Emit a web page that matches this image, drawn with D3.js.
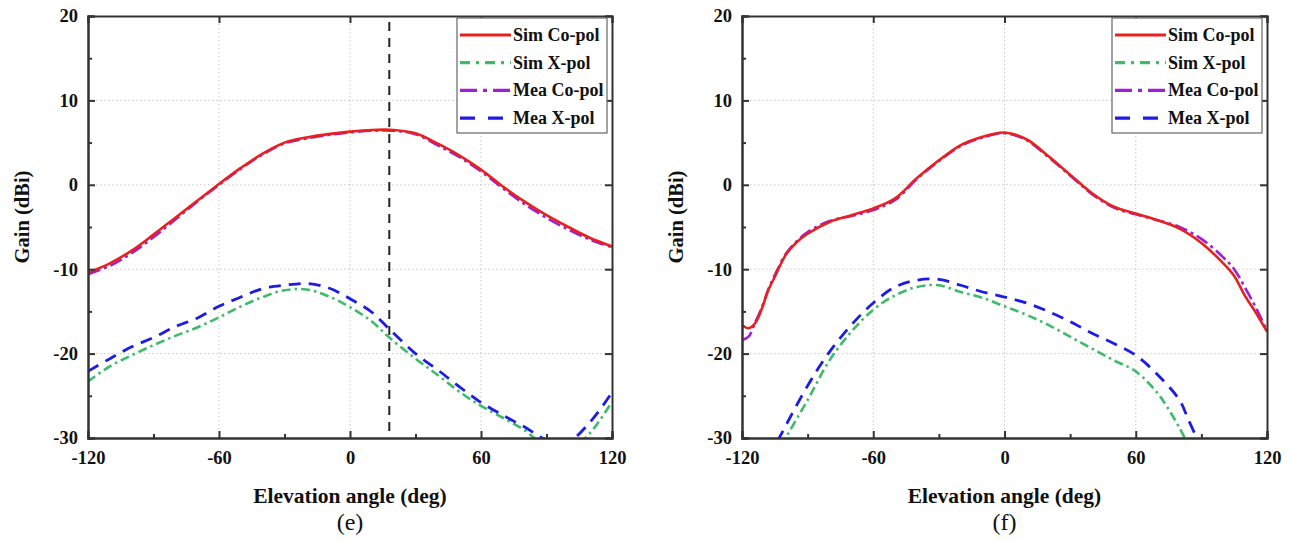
<!DOCTYPE html>
<html><head><meta charset="utf-8">
<script src="https://cdn.jsdelivr.net/npm/d3@7"></script>
<style>
html,body{margin:0;padding:0;background:#fff;}
svg{display:block;}
text{font-family:"Liberation Serif","Times New Roman",serif;}
</style></head>
<body>
<svg id="chart" width="1291" height="541"></svg>
<script>
// ---- data ----
const angleTicks = [-120, -60, 0, 60, 120];
const gainTicks = [-30, -20, -10, 0, 10, 20];
const seriesNames = ["Sim Co-pol", "Sim X-pol", "Mea Co-pol", "Mea X-pol"];
const panelLabels = ["(e)", "(f)"];
const markerAngleE = 18;

// panel (e)
const eCoAng = [-120,-110,-100,-90,-80,-70,-60,-50,-40,-30,-20,-10,0,10,20,30,40,50,60,70,80,90,100,110,120];
const eSimCo = [-10.4,-9.3,-7.8,-5.9,-3.9,-1.9,0.1,2.0,3.7,5.0,5.6,6.0,6.3,6.5,6.5,6.1,4.9,3.5,1.8,-0.2,-2.0,-3.6,-5.0,-6.3,-7.3];
const eMeaCo = [-10.6,-9.6,-8.1,-6.2,-4.1,-2.0,0.0,1.9,3.6,4.9,5.5,5.9,6.2,6.4,6.4,6.0,4.7,3.3,1.6,-0.4,-2.3,-3.9,-5.3,-6.5,-7.4];
const eXAng = [-120,-110,-100,-90,-80,-70,-60,-50,-40,-30,-20,-10,0,10,18,30,40,50,60,70,80,90,100,110,120];
const eSimX = [-23.3,-21.5,-20.2,-19.0,-17.9,-16.9,-15.7,-14.4,-13.3,-12.5,-12.4,-13.2,-14.5,-16.2,-18.1,-20.6,-22.5,-24.5,-26.2,-27.6,-29.1,-31.0,-31.6,-29.4,-25.7];
const eMeaX = [-22.1,-20.6,-19.2,-18.1,-16.8,-15.8,-14.4,-13.3,-12.3,-11.9,-11.7,-12.2,-13.5,-15.1,-17.1,-20.0,-21.9,-23.9,-25.8,-27.3,-28.7,-30.2,-30.4,-28.1,-24.6];

// panel (f)
const fCoAng = [-120,-117,-114,-112,-110,-108,-105,-100,-95,-90,-80,-70,-60,-50,-40,-30,-20,-10,0,10,20,30,40,50,60,70,80,90,100,105,110,115,120];
const fSimCo = [-16.6,-17.0,-16.4,-15.4,-14.0,-12.5,-10.9,-8.3,-6.8,-5.8,-4.4,-3.6,-2.8,-1.6,0.8,2.9,4.7,5.7,6.2,5.4,3.4,1.2,-1.0,-2.6,-3.4,-4.2,-5.2,-6.9,-9.3,-10.8,-13.2,-15.2,-17.4];
const fMeaCo = [-18.4,-18.0,-16.3,-15.2,-13.9,-12.4,-10.7,-8.2,-6.7,-5.6,-4.3,-3.7,-3.0,-1.8,0.7,2.8,4.6,5.6,6.1,5.3,3.3,1.1,-1.1,-2.7,-3.5,-4.2,-5.0,-6.4,-8.6,-10.0,-12.2,-14.6,-17.3];
const fSimXAng = [-106,-100,-90,-80,-70,-60,-50,-40,-30,-20,-10,0,10,20,30,40,50,60,70,75,80,83];
const fSimX = [-33.0,-30.0,-25.5,-20.8,-17.4,-14.8,-13.1,-12.1,-11.9,-12.7,-13.4,-14.4,-15.4,-16.6,-18.0,-19.4,-20.8,-22.1,-24.7,-26.6,-28.8,-30.3];
const fMeaXAng = [-108,-103,-90,-80,-70,-60,-50,-40,-30,-20,-10,0,10,20,30,40,50,60,70,80,84,87];
const fMeaX = [-32.5,-30.0,-23.8,-19.8,-16.6,-14.0,-12.1,-11.3,-11.2,-11.9,-12.7,-13.3,-14.0,-15.0,-16.2,-17.6,-18.8,-20.2,-22.5,-25.5,-27.8,-29.5];

// ---- styles ----
const styles = {
  "Sim Co-pol": {color: "#e8201e", dash: null, w: 2.6, ldash: null},
  "Sim X-pol":  {color: "#3dbb6a", dash: "9,4,2.5,4", w: 2.6, ldash: "10,6,3,6"},
  "Mea Co-pol": {color: "#a01ed8", dash: "13,4,3,4", w: 2.6, ldash: "17,6,4,6"},
  "Mea X-pol":  {color: "#1c1ce6", dash: "12,8", w: 2.8, ldash: "15,13"}
};

const panels = [
  {left: 88, right: 612, label: panelLabels[0], marker: markerAngleE,
   series: [
     {name: "Mea Co-pol", ang: eCoAng, val: eMeaCo},
     {name: "Sim Co-pol", ang: eCoAng, val: eSimCo},
     {name: "Sim X-pol", ang: eXAng, val: eSimX},
     {name: "Mea X-pol", ang: eXAng, val: eMeaX}
   ]},
  {left: 742, right: 1267, label: panelLabels[1], marker: null,
   series: [
     {name: "Mea Co-pol", ang: fCoAng, val: fMeaCo},
     {name: "Sim Co-pol", ang: fCoAng, val: fSimCo},
     {name: "Sim X-pol", ang: fSimXAng, val: fSimX},
     {name: "Mea X-pol", ang: fMeaXAng, val: fMeaX}
   ]}
];

const plotTop = 16, plotBottom = 438;
const svg = d3.select("#chart");
const fmt = d => String(d);
const serif = "'Liberation Serif','Times New Roman',serif";

panels.forEach((p, pi) => {
  const x = d3.scaleLinear().domain([-120, 120]).range([p.left, p.right]);
  const y = d3.scaleLinear().domain([-30, 20]).range([plotBottom, plotTop]);
  const g = svg.append("g");

  // grid
  g.selectAll(".gx").data(angleTicks.slice(1, -1)).enter().append("line")
    .attr("x1", d => x(d)).attr("x2", d => x(d)).attr("y1", plotTop).attr("y2", plotBottom)
    .attr("stroke", "#c8c8c8").attr("stroke-width", 1).attr("stroke-dasharray", "1.5,2.5");
  g.selectAll(".gy").data(gainTicks.slice(1, -1)).enter().append("line")
    .attr("x1", p.left).attr("x2", p.right).attr("y1", d => y(d)).attr("y2", d => y(d))
    .attr("stroke", "#c8c8c8").attr("stroke-width", 1).attr("stroke-dasharray", "1.5,2.5");

  // clip
  const cid = "clip" + pi;
  svg.append("clipPath").attr("id", cid).append("rect")
    .attr("x", p.left).attr("y", plotTop).attr("width", p.right - p.left).attr("height", plotBottom - plotTop);

  const line = d3.line().x(d => x(d[0])).y(d => y(d[1])).curve(d3.curveCatmullRom.alpha(0.5));
  const cg = g.append("g").attr("clip-path", `url(#${cid})`);
  p.series.forEach(s => {
    const st = styles[s.name];
    const pts = s.ang.map((a, i) => [a, s.val[i]]);
    cg.append("path").datum(pts).attr("d", line)
      .attr("fill", "none").attr("stroke", st.color).attr("stroke-width", st.w)
      .attr("stroke-dasharray", st.dash).attr("stroke-linejoin", "round");
  });

  if (p.marker !== null) {
    g.append("line").attr("x1", x(p.marker)).attr("x2", x(p.marker))
      .attr("y1", plotTop + 6).attr("y2", plotBottom)
      .attr("stroke", "#222").attr("stroke-width", 2).attr("stroke-dasharray", "9,7");
  }

  // axes (inward ticks)
  const axB = d3.axisBottom(x).tickValues(angleTicks).tickSize(-7).tickPadding(13).tickFormat(fmt);
  const axBm = d3.axisBottom(x).tickValues([-90, -30, 30, 90]).tickSize(-4).tickFormat("");
  const axL = d3.axisLeft(y).tickValues(gainTicks).tickSize(-7).tickPadding(10).tickFormat(fmt);
  const axLm = d3.axisLeft(y).tickValues([-25, -15, -5, 5, 15]).tickSize(-4).tickFormat("");
  const axT = d3.axisTop(x).tickValues(angleTicks).tickSize(-7).tickFormat("");
  const axR = d3.axisRight(y).tickValues(gainTicks).tickSize(-7).tickFormat("");

  const styleAxis = sel => {
    sel.attr("font-family", serif);
    sel.select(".domain").attr("stroke", "#333").attr("stroke-width", 2);
    sel.selectAll(".tick line").attr("stroke", "#333").attr("stroke-width", 2);
    sel.selectAll("text").attr("fill", "#111").style("font-size", "18.5px").style("font-weight", "bold")
      .style("font-family", serif);
  };
  g.append("g").attr("transform", `translate(0,${plotBottom})`).call(axB).call(styleAxis);
  g.append("g").attr("transform", `translate(0,${plotBottom})`).call(axBm).call(styleAxis);
  g.append("g").attr("transform", `translate(${p.left},0)`).call(axL).call(styleAxis);
  g.append("g").attr("transform", `translate(${p.left},0)`).call(axLm).call(styleAxis);
  g.append("g").attr("transform", `translate(0,${plotTop})`).call(axT).call(styleAxis);
  g.append("g").attr("transform", `translate(${p.right},0)`).call(axR).call(styleAxis);

  // axis titles
  const cx = (p.left + p.right) / 2;
  g.append("text").attr("x", cx).attr("y", 503).attr("text-anchor", "middle")
    .style("font-size", "21.5px").style("font-weight", "bold").style("font-family", serif).attr("fill", "#111")
    .text("Elevation angle (deg)");
  g.append("text").attr("transform", `translate(${p.left - 59},${217}) rotate(-90)`)
    .attr("text-anchor", "middle").style("font-size", "20.5px").style("font-weight", "bold").style("font-family", serif).attr("fill", "#111")
    .text("Gain (dBi)");
  g.append("text").attr("x", cx).attr("y", 530).attr("text-anchor", "middle")
    .style("font-size", "24px").style("font-family", serif).attr("fill", "#111").text(p.label);

  // legend
  const lx = p.right - 155, ly = 18, lw = 150, lh = 115;
  const lg = g.append("g");
  lg.append("rect").attr("x", lx).attr("y", ly).attr("width", lw).attr("height", lh)
    .attr("fill", "#fff").attr("stroke", "#666").attr("stroke-width", 1.2);
  seriesNames.forEach((n, i) => {
    const st = styles[n];
    const yy = ly + 17 + i * 27.7;
    lg.append("line").attr("x1", lx + 3).attr("x2", lx + 54).attr("y1", yy).attr("y2", yy)
      .attr("stroke", st.color).attr("stroke-width", st.w + 0.6).attr("stroke-dasharray", st.ldash);
    lg.append("text").attr("x", lx + 56).attr("y", yy + 6)
      .style("font-size", "18px").style("font-weight", "bold").style("font-family", serif).attr("fill", "#111").text(n);
  });
});
</script>
</body></html>
